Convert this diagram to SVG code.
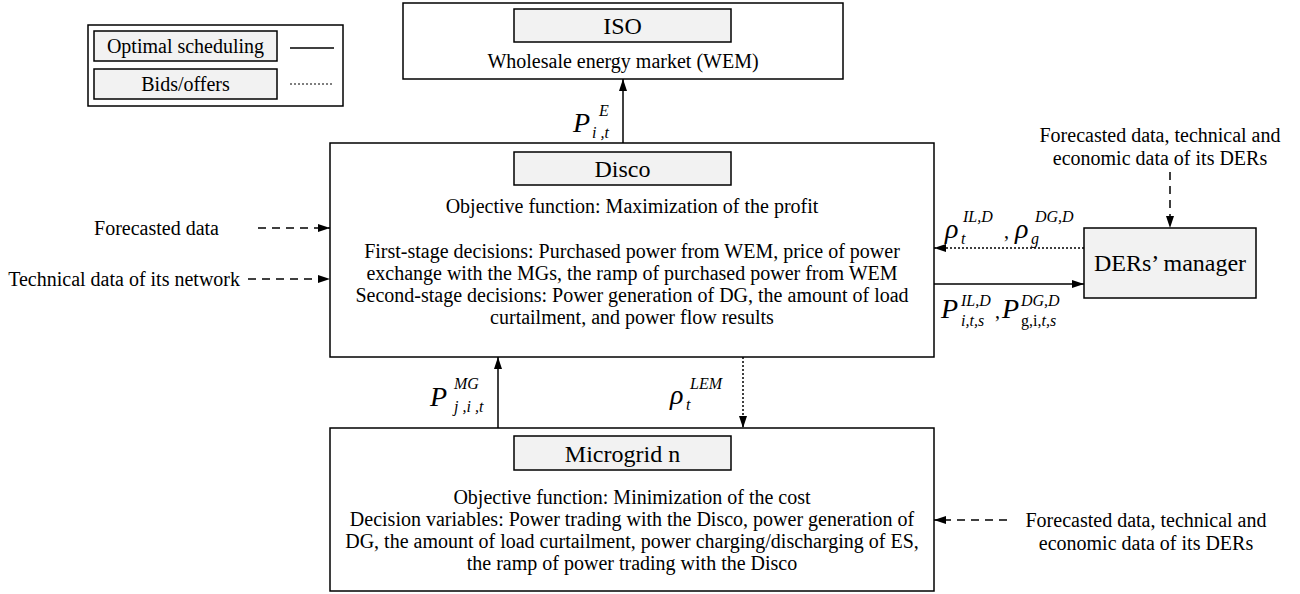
<svg xmlns="http://www.w3.org/2000/svg" width="1300" height="594" viewBox="0 0 1300 594">
<style>
text{font-family:"Liberation Serif","Times New Roman",serif;fill:#000}
.t20{font-size:20px}
.t24{font-size:24px}
.c{text-anchor:middle}
.e{text-anchor:end}
.big{font-size:28px;font-style:italic}
.sm{font-size:16px;font-style:italic}
.smu{font-size:16px;font-style:normal}
.outer{fill:#fff;stroke:#000;stroke-width:1.5}
.inner{fill:#f2f2f2;stroke:#000;stroke-width:1.5}
.solid{stroke:#000;stroke-width:1.5;fill:none}
.dash{stroke:#000;stroke-width:1.5;fill:none;stroke-dasharray:8 6}
.dot{stroke:#000;stroke-width:1.5;fill:none;stroke-dasharray:2 2}
</style>
<defs>
<marker id="ah" markerUnits="userSpaceOnUse" markerWidth="13" markerHeight="9" refX="12" refY="4" orient="auto">
<path d="M0,0 L12,4 L0,8 z" fill="#000"/>
</marker>
</defs>
<rect width="1300" height="594" fill="#fff"/>

<g id="legend">
<rect class="outer" x="88" y="25" width="255" height="81"/>
<rect class="inner" x="94" y="31" width="183" height="30"/>
<text class="t20 c" x="185.5" y="53">Optimal scheduling</text>
<rect class="inner" x="94" y="69" width="183" height="30"/>
<text class="t20 c" x="185.5" y="91">Bids/offers</text>
<line class="solid" x1="290" y1="48" x2="334" y2="48"/>
<line class="dot" x1="290" y1="84" x2="334" y2="84" style="stroke-width:1.2"/>
</g>

<g id="iso">
<rect class="outer" x="403" y="3" width="440" height="76"/>
<rect class="inner" x="514" y="9" width="217" height="33"/>
<text class="t24 c" x="622.5" y="34">ISO</text>
<text class="t20 c" x="623" y="68">Wholesale energy market (WEM)</text>
</g>

<g id="disco">
<rect class="outer" x="330" y="143" width="604" height="214"/>
<rect class="inner" x="514" y="152" width="217" height="33"/>
<text class="t24 c" x="622.5" y="177">Disco</text>
<text class="t20 c" x="632" y="213">Objective function: Maximization of the profit</text>
<text class="t20 c" x="632" y="258">First-stage decisions: Purchased power from WEM, price of power</text>
<text class="t20 c" x="632" y="280">exchange with the MGs, the ramp of purchased power from WEM</text>
<text class="t20 c" x="632" y="302">Second-stage decisions: Power generation of DG, the amount of load</text>
<text class="t20 c" x="632" y="324">curtailment, and power flow results</text>
</g>

<g id="microgrid">
<rect class="outer" x="330" y="428" width="604" height="163"/>
<rect class="inner" x="514" y="436" width="217" height="34"/>
<text class="t24 c" x="622.5" y="462">Microgrid n</text>
<text class="t20 c" x="632" y="504">Objective function: Minimization of the cost</text>
<text class="t20 c" x="632" y="526">Decision variables: Power trading with the Disco, power generation of</text>
<text class="t20 c" x="632" y="548">DG, the amount of load curtailment, power charging/discharging of ES,</text>
<text class="t20 c" x="632" y="570">the ramp of power trading with the Disco</text>
</g>

<g id="ders-manager">
<rect class="inner" x="1084" y="228" width="172" height="70"/>
<text class="t24 c" x="1170" y="271">DERs’ manager</text>
</g>

<g id="inputs">
<text class="t20 e" x="219" y="235">Forecasted data</text>
<text class="t20 e" x="240" y="286">Technical data of its network</text>
<text class="t20 c" x="1160" y="142">Forecasted data, technical and</text>
<text class="t20 c" x="1160" y="165">economic data of its DERs</text>
<text class="t20 c" x="1146" y="527">Forecasted data, technical and</text>
<text class="t20 c" x="1146" y="550">economic data of its DERs</text>
</g>

<g id="connectors">
<line class="solid" x1="623" y1="143" x2="623" y2="79" marker-end="url(#ah)"/>
<line class="dash" x1="258" y1="228" x2="330" y2="228" marker-end="url(#ah)"/>
<line class="dash" x1="248" y1="279" x2="330" y2="279" marker-end="url(#ah)"/>
<line class="dot" x1="1084" y1="248" x2="934" y2="248" marker-end="url(#ah)"/>
<line class="solid" x1="934" y1="284" x2="1084" y2="284" marker-end="url(#ah)"/>
<line class="dash" x1="1170" y1="172" x2="1170" y2="228" marker-end="url(#ah)"/>
<line class="solid" x1="498" y1="428" x2="498" y2="357" marker-end="url(#ah)"/>
<line class="dot" x1="743" y1="357" x2="743" y2="428" marker-end="url(#ah)"/>
<line class="dash" x1="1007" y1="520" x2="934" y2="520" marker-end="url(#ah)"/>
</g>

<g id="labels">
<text class="big" x="573" y="132">P</text>
<text class="sm" x="599" y="116">E</text>
<text class="sm" x="592" y="138">i ,t</text>

<text class="big" x="945" y="238">ρ</text>
<text class="sm" x="961" y="244">t</text>
<text class="sm" x="963" y="222">IL,D</text>
<text class="t20" x="1004" y="238">,</text>
<text class="big" x="1015" y="238">ρ</text>
<text class="sm" x="1031" y="244">g</text>
<text class="sm" x="1035" y="222">DG,D</text>

<text class="big" x="941" y="318">P</text>
<text class="sm" x="961" y="306">IL,D</text>
<text class="sm" x="961" y="326">i,t,s</text>
<text class="t20" x="995" y="318">,</text>
<text class="big" x="1002" y="318">P</text>
<text class="sm" x="1021" y="306">DG,D</text>
<text class="sm" x="1021" y="326"><tspan class="smu">g,i,</tspan>t,s</text>

<text class="big" x="430" y="406">P</text>
<text class="sm" x="454" y="389">MG</text>
<text class="sm" x="454" y="412">j ,i ,t</text>

<text class="big" x="670" y="404">ρ</text>
<text class="sm" x="686" y="410">t</text>
<text class="sm" x="690" y="389">LEM</text>
</g>
</svg>
